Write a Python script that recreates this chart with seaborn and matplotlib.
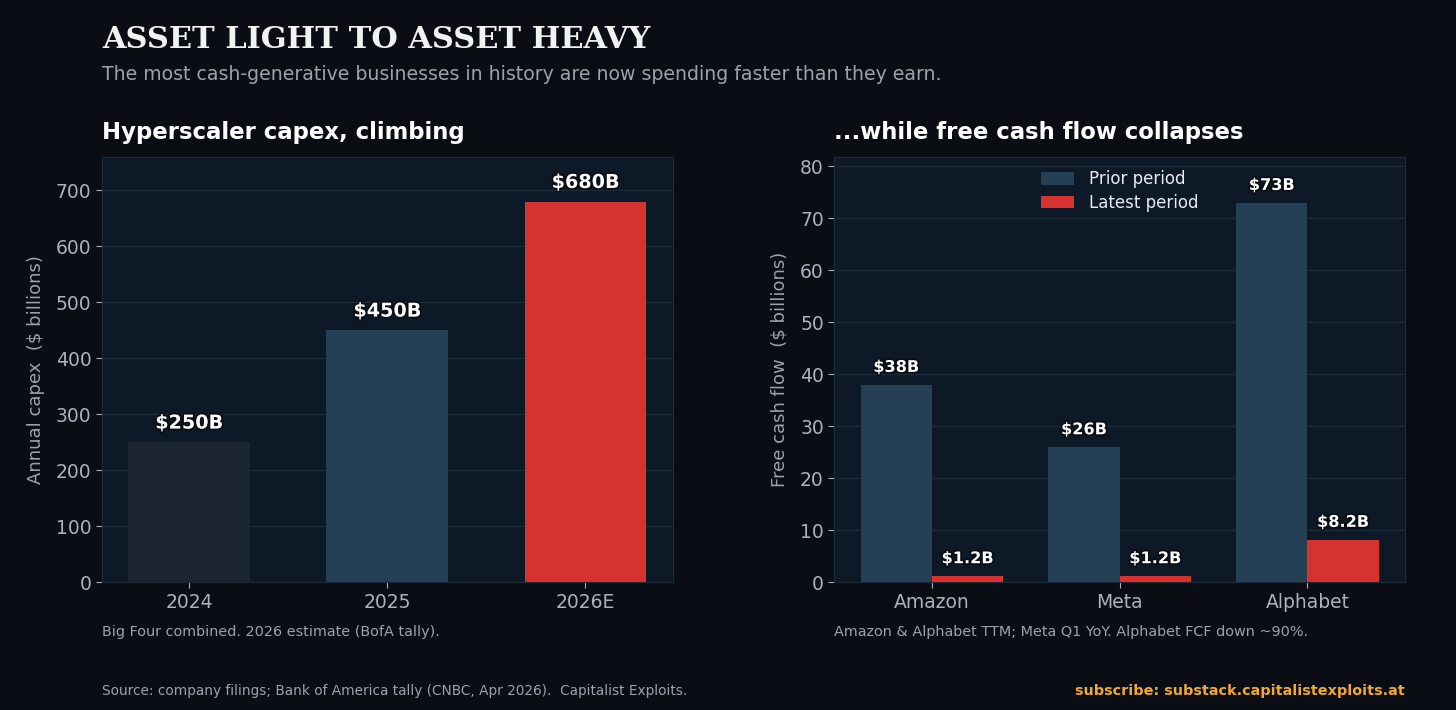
import matplotlib
matplotlib.use("Agg")
import matplotlib.pyplot as plt
import matplotlib.patheffects as pe
import pandas as pd
import seaborn as sns

years = ["2024", "2025", "2026E"]
capex = [250, 450, 680]
capex_labels = ["$250B", "$450B", "$680B"]

companies = ["Amazon", "Meta", "Alphabet"]
periods = ["Prior period", "Latest period"]
fcf_prior = [38, 26, 73]
fcf_latest = [1.2, 1.2, 8.2]
prior_labels = ["$38B", "$26B", "$73B"]
latest_labels = ["$1.2B", "$1.2B", "$8.2B"]

BG = "#0a0d13"
PANEL = "#0e1927"
GRID = "#1c2a39"
TICK = "#a9b3bd"
MUTED = "#9aa3ad"
RED = "#d63330"
SLATE = "#253f55"
DARK = "#1c2633"

sns.set_theme(style="dark")
plt.rcParams["font.family"] = ["DejaVu Sans"]
plt.rcParams["axes.facecolor"] = PANEL
plt.rcParams["figure.facecolor"] = BG

capex_df = pd.DataFrame({"Year": years, "Capex": capex})
fcf_df = pd.DataFrame({
    "Company": companies * 2,
    "Period": [periods[0]] * 3 + [periods[1]] * 3,
    "FCF": fcf_prior + fcf_latest,
})

fig = plt.figure(figsize=(14.56, 7.10), dpi=100)
ax1 = fig.add_axes([0.070, 0.180, 0.392, 0.599])
ax2 = fig.add_axes([0.573, 0.180, 0.392, 0.599])

sns.barplot(data=capex_df, x="Year", y="Capex", hue="Year",
            palette=[DARK, SLATE, RED], saturation=1, width=0.615,
            legend=False, linewidth=0, edgecolor="none", ax=ax1)
sns.barplot(data=fcf_df, x="Company", y="FCF", hue="Period",
            palette=[SLATE, RED], saturation=1, width=0.76,
            linewidth=0, edgecolor="none", ax=ax2)

stroke = [pe.withStroke(linewidth=2.5, foreground=BG)]

for bars, lab in zip(ax1.containers, [[l] for l in capex_labels]):
    texts = ax1.bar_label(bars, labels=lab, padding=7, color="white",
                          fontsize=13.8, fontweight="bold")
    for t in texts:
        t.set_path_effects(stroke)

for bars, lab in zip(ax2.containers, [prior_labels, latest_labels]):
    texts = ax2.bar_label(bars, labels=lab, padding=7, color="white",
                          fontsize=11.6, fontweight="bold")
    for t in texts:
        t.set_path_effects(stroke)

ax1.set_ylim(0, 760)
ax1.set_xlim(-0.44, 2.44)
ax1.set_yticks(range(0, 701, 100))
ax2.set_ylim(0, 81.8)
ax2.set_xlim(-0.52, 2.52)
ax2.set_yticks(range(0, 81, 10))

for ax in (ax1, ax2):
    ax.set_facecolor(PANEL)
    ax.grid(axis="y", color=GRID, linewidth=0.9)
    ax.grid(axis="x", visible=False)
    ax.set_axisbelow(True)
    ax.set_xlabel("")
    for s in ax.spines.values():
        s.set_visible(True)
        s.set_color(GRID)
        s.set_linewidth(0.8)
    ax.tick_params(axis="both", colors=TICK, labelsize=13.5, length=4,
                   width=0.8, bottom=True, left=True)

ax1.set_ylabel("Annual capex  ($ billions)", color=MUTED, fontsize=13, labelpad=8)
ax2.set_ylabel("Free cash flow  ($ billions)", color=MUTED, fontsize=13, labelpad=8)

leg = ax2.legend(loc="upper center", frameon=False, fontsize=12,
                 handlelength=2.0, handleheight=0.75, labelspacing=0.35,
                 handletextpad=0.9, borderaxespad=0.4)
for t in leg.get_texts():
    t.set_color("#e6ebf0")

fig.text(102 / 1456, 1 - 40 / 710, "ASSET LIGHT TO ASSET HEAVY", family="DejaVu Serif",
         fontweight="bold", fontsize=21.9, color="#f2f2f2", va="center", ha="left")
fig.text(102 / 1456, 1 - 75 / 710,
         "The most cash-generative businesses in history are now spending faster than they earn.",
         fontsize=13.6, color=MUTED, va="center", ha="left")
fig.text(102 / 1456, 1 - 133 / 710, "Hyperscaler capex, climbing",
         fontsize=16.4, fontweight="bold", color="white", va="center", ha="left")
fig.text(834 / 1456, 1 - 133 / 710, "...while free cash flow collapses",
         fontsize=16.4, fontweight="bold", color="white", va="center", ha="left")
fig.text(102 / 1456, 1 - 632 / 710, "Big Four combined. 2026 estimate (BofA tally).",
         fontsize=10.4, color=MUTED, va="center", ha="left")
fig.text(834 / 1456, 1 - 632 / 710,
         "Amazon & Alphabet TTM; Meta Q1 YoY. Alphabet FCF down ~90%.",
         fontsize=10.4, color=MUTED, va="center", ha="left")
fig.text(102 / 1456, 1 - 691 / 710,
         "Source: company filings; Bank of America tally (CNBC, Apr 2026).  Capitalist Exploits.",
         fontsize=9.8, color=MUTED, va="center", ha="left")
fig.text(1405 / 1456, 1 - 691 / 710, "subscribe: substack.capitalistexploits.at",
         fontsize=10.35, fontweight="bold", color="#f0a830", va="center", ha="right")

fig.savefig("out.png", dpi=100, facecolor=BG)
